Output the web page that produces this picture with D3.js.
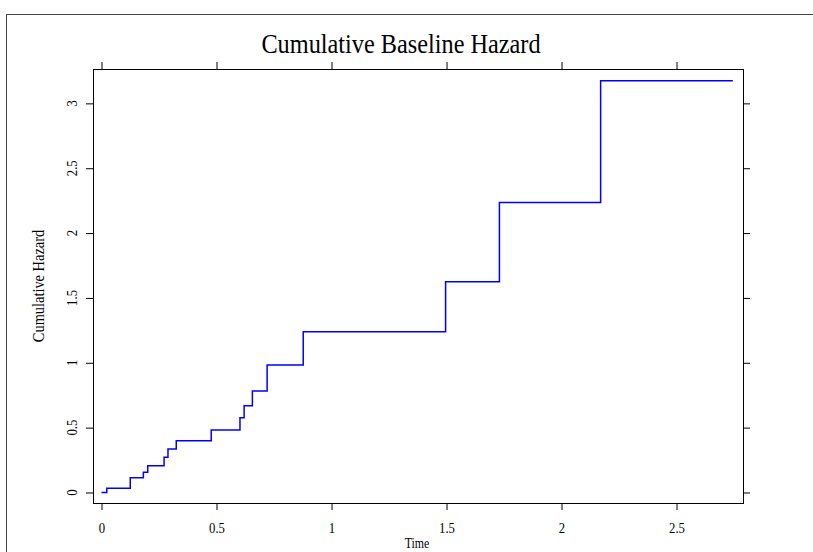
<!DOCTYPE html>
<html>
<head>
<meta charset="utf-8">
<script src="https://cdn.jsdelivr.net/npm/d3@7"></script>
<style>
  body { margin: 0; background: #fff; }
  svg text { font-family: "Liberation Serif", "DejaVu Serif", serif; fill: #000; }
</style>
</head>
<body>
<div id="chart"></div>
<script>
// step times and cumulative hazard values
const times  = [0, 0.023, 0.125, 0.182, 0.201, 0.272, 0.289, 0.325, 0.477, 0.602, 0.620, 0.656, 0.720, 0.877, 1.496, 1.730, 2.170];
const hazard = [0, 0.032, 0.114, 0.156, 0.207, 0.271, 0.335, 0.399, 0.482, 0.577, 0.669, 0.783, 0.983, 1.240, 1.625, 2.235, 3.175];
const endTime = 2.745;

const xTicks = [0, 0.5, 1, 1.5, 2, 2.5];
const yTicks = [0, 0.5, 1, 1.5, 2, 2.5, 3];

const W = 813, H = 552;
const box = { left: 93, right: 743, top: 69, bottom: 503 };

const svg = d3.select('#chart').append('svg')
  .attr('width', W).attr('height', H);

// outer frame
svg.append('rect')
  .attr('x', 6.5).attr('y', 14.5)
  .attr('width', W + 10).attr('height', H)
  .attr('fill', '#fff').attr('stroke', '#444').attr('stroke-width', 1);

const x = d3.scaleLinear().domain([-0.037, 2.789]).range([box.left, box.right]);
const y = d3.scaleLinear().domain([-0.081, 3.265]).range([box.bottom, box.top]);

// title (Times-like, slightly condensed)
svg.append('text')
  .attr('transform', `translate(${(box.left + box.right) / 2 - 17},53) scale(0.9,1)`)
  .attr('text-anchor', 'middle').attr('font-size', '27px')
  .text('Cumulative Baseline Hazard');

// axes with outward ticks
const tick = 7;
svg.append('g').attr('transform', `translate(0,${box.bottom})`)
  .call(d3.axisBottom(x).tickValues(xTicks).tickSize(tick).tickPadding(12).tickFormat(d3.format('')))
  .call(g => g.select('.domain').remove())
  .call(g => g.selectAll('text').attr('font-size', '15px').attr('transform', 'scale(0.85,1)'));

svg.append('g').attr('transform', `translate(0,${box.top})`)
  .call(d3.axisTop(x).tickValues(xTicks).tickSize(tick).tickFormat(''))
  .call(g => g.select('.domain').remove());

svg.append('g').attr('transform', `translate(${box.left},0)`)
  .call(d3.axisLeft(y).tickValues(yTicks).tickSize(tick).tickFormat(''))
  .call(g => g.select('.domain').remove());

svg.append('g').attr('transform', `translate(${box.right},0)`)
  .call(d3.axisRight(y).tickValues(yTicks).tickSize(tick).tickFormat(''))
  .call(g => g.select('.domain').remove());

// rotated y tick labels
svg.append('g').selectAll('text')
  .data(yTicks).enter().append('text')
  .attr('transform', d => `translate(${box.left - 16},${y(d)}) rotate(-90) scale(0.85,1)`)
  .attr('text-anchor', 'middle')
  .attr('font-size', '15px')
  .text(d => d3.format('')(d));

// box
svg.append('rect')
  .attr('x', box.left + 0.5).attr('y', box.top + 0.5)
  .attr('width', box.right - box.left).attr('height', box.bottom - box.top)
  .attr('fill', 'none').attr('stroke', '#000').attr('stroke-width', 1);

// axis labels
svg.append('text')
  .attr('transform', `translate(${(box.left + box.right) / 2 - 1},548) scale(0.85,1)`)
  .attr('text-anchor', 'middle').attr('font-size', '14px')
  .text('Time');

svg.append('text')
  .attr('transform', `translate(44,${(box.top + box.bottom) / 2}) rotate(-90) scale(0.9,1)`)
  .attr('text-anchor', 'middle').attr('font-size', '16px')
  .text('Cumulative Hazard');

// step line
const pts = times.map((t, i) => [t, hazard[i]]);
pts.push([endTime, hazard[hazard.length - 1]]);
const line = d3.line()
  .x(d => x(d[0])).y(d => y(d[1]))
  .curve(d3.curveStepAfter);

svg.append('path')
  .datum(pts)
  .attr('d', line)
  .attr('fill', 'none')
  .attr('stroke', '#0000ff')
  .attr('stroke-width', 1.5);
</script>
</body>
</html>
